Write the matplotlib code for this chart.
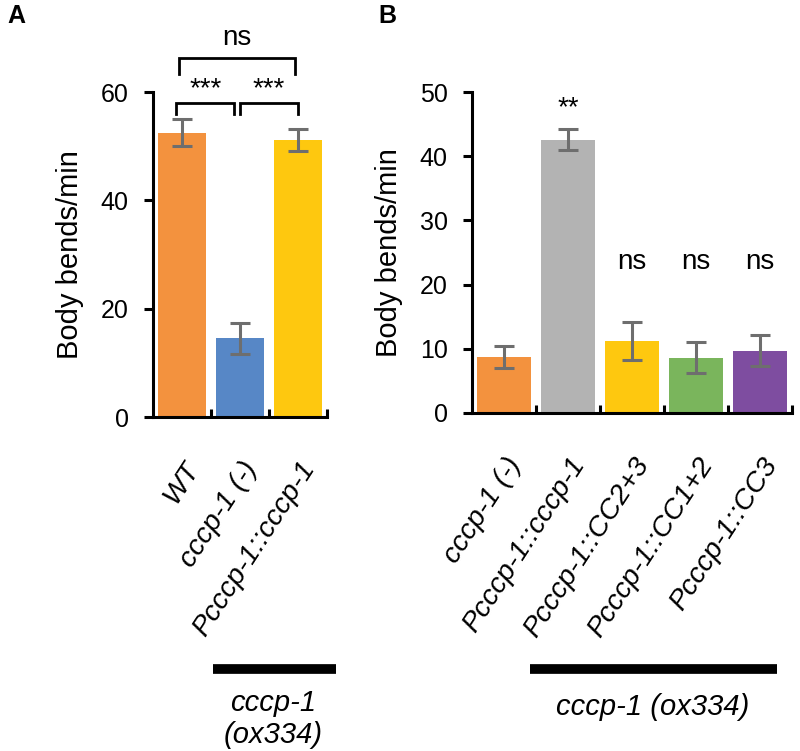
import matplotlib
matplotlib.use("Agg")
import matplotlib.pyplot as plt
from matplotlib.lines import Line2D
import matplotlib.transforms as mtransforms

plt.rcParams['font.family'] = ['Liberation Sans', 'DejaVu Sans']

# Panel A data
a_labels = ["WT", "cccp-1 (-)", "Pcccp-1::cccp-1"]
a_values = [52.5, 14.5, 51.1]
a_errors = [2.5, 2.8, 2.0]
a_colors = ["#F3923E", "#5787C6", "#FEC80F"]

# Panel B data
b_labels = ["cccp-1 (-)", "Pcccp-1::cccp-1", "Pcccp-1::CC2+3", "Pcccp-1::CC1+2", "Pcccp-1::CC3"]
b_values = [8.7, 42.6, 11.2, 8.6, 9.7]
b_errors = [1.7, 1.6, 2.9, 2.4, 2.4]
b_colors = ["#F3923E", "#B3B3B3", "#FEC80F", "#7AB55C", "#7E4DA0"]
b_sig = ["", "**", "ns", "ns", "ns"]

fig = plt.figure(figsize=(8, 7.51), dpi=100)
W, H = 800, 751

def add_axes_px(l, r, b, t):
    return fig.add_axes([l / W, 1 - b / H, (r - l) / W, (b - t) / H])

axA = add_axes_px(153, 327, 417, 92)
axB = add_axes_px(472, 792, 413, 92)

errcol = "#6E6E6E"
tick_fs = 18
lab_fs = 21
rot_fs = 20.5
ann_fs = 20

def style(ax, labels, ymax, step):
    ax.set_ylim(0, ymax)
    ax.set_xlim(-0.5, len(labels) - 0.5)
    for s in ["top", "right"]:
        ax.spines[s].set_visible(False)
    for s in ["left", "bottom"]:
        ax.spines[s].set_linewidth(2.2)
    ax.set_yticks(range(0, ymax + 1, step))
    ax.tick_params(axis='y', direction='out', length=6.5, width=2.2, labelsize=tick_fs, pad=11)
    ax.set_xticks(range(len(labels)))
    ax.set_xticklabels([])
    ax.tick_params(axis='x', length=0)
    ax.set_xticks([i + 0.5 for i in range(len(labels))], minor=True)
    ax.tick_params(axis='x', which='minor', direction='in', length=6, width=2.2)
    ax.set_ylabel("Body bends/min", fontsize=lab_fs, labelpad=12)
    trans = mtransforms.blended_transform_factory(ax.transData, ax.transAxes)
    off = mtransforms.ScaledTranslation(12 / 100, -47 / 100, fig.dpi_scale_trans)
    for i, lab in enumerate(labels):
        ax.text(i, 0, lab, transform=trans + off, rotation=57, rotation_mode='anchor',
                ha='right', va='center', fontsize=rot_fs, style='italic', clip_on=False)

# Panel A
axA.bar(range(3), a_values, width=0.83, color=a_colors)
axA.errorbar(range(3), a_values, yerr=a_errors, fmt='none', ecolor=errcol,
             elinewidth=2.2, capsize=7, capthick=2.2)
style(axA, a_labels, 60, 20)

def bracket(ax, x1, x2, ytop, ybot, text, ytext):
    ax.plot([x1, x1, x2, x2], [ybot, ytop, ytop, ybot], color='black', lw=2.0,
            clip_on=False, solid_joinstyle='miter')
    ax.text((x1 + x2) / 2, ytext, text, ha='center', va='center', fontsize=ann_fs, clip_on=False)

bracket(axA, -0.1, 0.9, 57.9, 56.0, "***", 60.6)
bracket(axA, 1.0, 2.0, 57.9, 56.0, "***", 60.6)
bracket(axA, -0.05, 1.95, 66.2, 63.4, "ns", 70.0)

# Panel B
axB.bar(range(5), b_values, width=0.83, color=b_colors)
axB.errorbar(range(5), b_values, yerr=b_errors, fmt='none', ecolor=errcol,
             elinewidth=2.2, capsize=7, capthick=2.2)
style(axB, b_labels, 50, 10)
for i, s in enumerate(b_sig):
    if s == "**":
        axB.text(i, 47.4, s, ha='center', va='center', fontsize=ann_fs)
    elif s:
        axB.text(i, 23.5, s, ha='center', va='center', fontsize=ann_fs)

# Strain bars below
fig.add_artist(Line2D([213 / W, 336 / W], [1 - 669 / H, 1 - 669 / H], color='black', lw=7,
                      solid_capstyle='butt'))
fig.text(273 / W, 1 - 703 / H, "cccp-1", ha='center', va='center', fontsize=21, style='italic')
fig.text(273 / W, 1 - 735 / H, "(ox334)", ha='center', va='center', fontsize=21, style='italic')
fig.add_artist(Line2D([530 / W, 777 / W], [1 - 669 / H, 1 - 669 / H], color='black', lw=7,
                      solid_capstyle='butt'))
fig.text(653 / W, 1 - 707 / H, "cccp-1 (ox334)", ha='center', va='center', fontsize=21, style='italic')

# Panel letters
fig.text(16 / W, 1 - 16 / H, "A", ha='center', va='center', fontsize=18, fontweight='bold')
fig.text(387 / W, 1 - 16 / H, "B", ha='center', va='center', fontsize=18, fontweight='bold')

fig.savefig("out.png", dpi=100)
